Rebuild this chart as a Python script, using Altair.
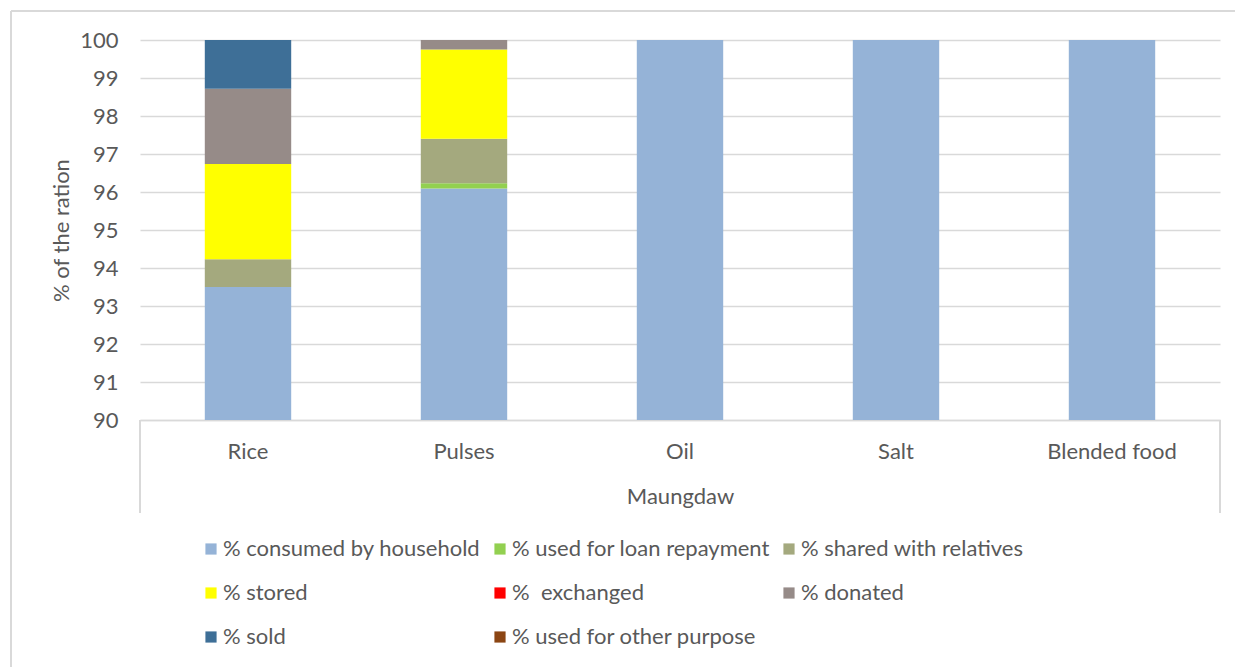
import altair as alt
import pandas as pd

categories = ["Rice", "Pulses", "Oil", "Salt", "Blended food"]
series_names = [
    "% consumed by household",
    "% used for loan repayment",
    "% shared with relatives",
    "% stored",
    "% \u00a0exchanged",
    "% donated",
    "% sold",
    "% used for other purpose",
]
consumed = [93.5, 96.09, 100, 100, 100]
loan = [0, 0.14, 0, 0, 0]
shared = [0.73, 1.17, 0, 0, 0]
stored = [2.51, 2.35, 0, 0, 0]
exchanged = [0, 0, 0, 0, 0]
donated = [1.98, 0.25, 0, 0, 0]
sold = [1.28, 0, 0, 0, 0]
other = [0, 0, 0, 0, 0]
colors = ["#95b3d7", "#92d050", "#a4a97e", "#ffff00", "#ff0000", "#968b88", "#3e6f97", "#8b4513"]
y_ticks = [90, 91, 92, 93, 94, 95, 96, 97, 98, 99, 100]

series_values = [consumed, loan, shared, stored, exchanged, donated, sold, other]
rows = []
for si, (name, vals) in enumerate(zip(series_names, series_values)):
    for cat, v in zip(categories, vals):
        rows.append({"category": cat, "series": name, "value": v, "order": si})
df = pd.DataFrame(rows)

FONT = "Lato"
FS = 22
TXT = "#595959"
W, H = 1080, 380

bars = alt.Chart(df).mark_bar(clip=True).encode(
    x=alt.X("category:N", sort=categories,
            scale=alt.Scale(paddingInner=0.6, paddingOuter=0.3),
            axis=alt.Axis(title="Maungdaw", labelAngle=0, ticks=False,
                          domainColor="#d9d9d9", domainWidth=1.3,
                          labelPadding=21, titlePadding=24,
                          labelFontSize=FS, titleFontSize=FS,
                          labelColor=TXT, titleColor=TXT,
                          labelFont=FONT, titleFont=FONT, titleFontWeight="normal")),
    y=alt.Y("value:Q", stack="zero",
            scale=alt.Scale(domain=[90, 100], nice=False, zero=False),
            axis=alt.Axis(title="% of the ration", values=y_ticks, format="d",
                          domain=False, ticks=False, gridColor="#d9d9d9", gridWidth=1.3,
                          labelPadding=22, titlePadding=6,
                          labelFontSize=FS, titleFontSize=FS,
                          labelColor=TXT, titleColor=TXT,
                          labelFont=FONT, titleFont=FONT, titleFontWeight="normal")),
    color=alt.Color("series:N", sort=series_names,
                    scale=alt.Scale(domain=series_names, range=colors),
                    legend=alt.Legend(title=None, orient="none", legendX=60, legendY=498,
                                      columns=3, direction="horizontal", gridAlign="each",
                                      symbolType="square",
                                      symbolSize=125, symbolStrokeWidth=0,
                                      labelFontSize=FS, labelFont=FONT, labelColor=TXT,
                                      labelLimit=400, labelOffset=1,
                                      rowPadding=22, columnPadding=8)),
    order=alt.Order("order:Q", sort="ascending"),
)

# decorative category-cell borders below the axis and outer chart border
left_line = alt.Chart(df).mark_rule(color="#d9d9d9", strokeWidth=1.3).encode(
    x=alt.value(0), y=alt.value(H), y2=alt.value(H + 93))
right_line = alt.Chart(df).mark_rule(color="#d9d9d9", strokeWidth=1.3).encode(
    x=alt.value(W), y=alt.value(H), y2=alt.value(H + 93))
border_top = alt.Chart(df).mark_rule(color="#d9d9d9", strokeWidth=1.3).encode(
    x=alt.value(-129), x2=alt.value(W + 20), y=alt.value(-29))
border_left = alt.Chart(df).mark_rule(color="#d9d9d9", strokeWidth=1.3).encode(
    x=alt.value(-129), y=alt.value(-29), y2=alt.value(H + 260))

chart = alt.layer(bars, left_line, right_line, border_top, border_left).properties(
    width=W, height=H,
    padding={"left": 140, "top": 40, "right": 15, "bottom": 247},
    autosize=alt.AutoSizeParams(type="none"),
    background="white",
).configure_view(stroke=None)

chart.save("out.html", embed_options={"renderer": "svg", "actions": False})
